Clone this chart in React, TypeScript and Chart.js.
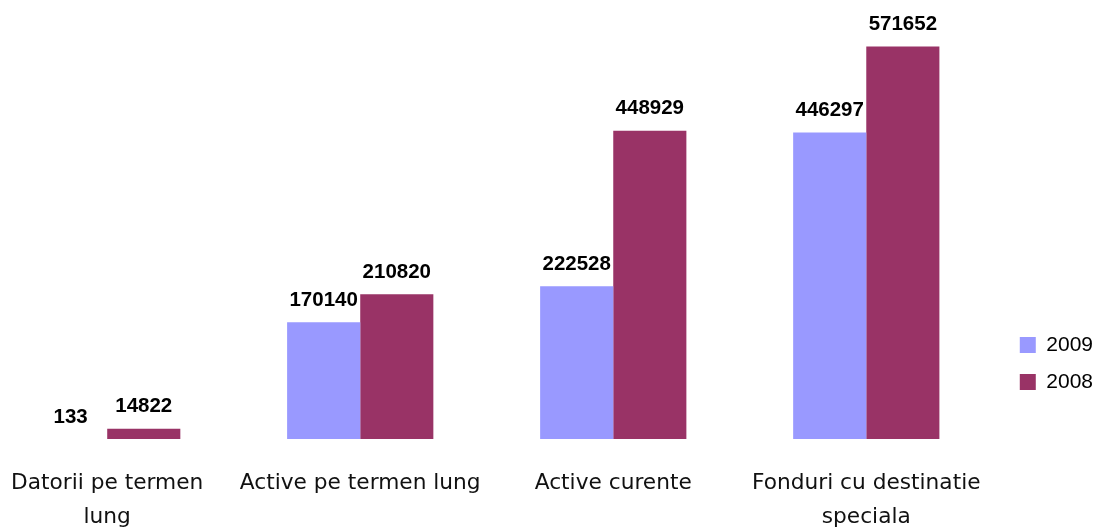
import React, { useEffect, useRef } from "react";
import { Chart, registerables } from "chart.js";

Chart.register(...registerables);

const categories: string[][] = [
  ["Datorii pe termen", "lung"],
  ["Active pe termen lung"],
  ["Active curente"],
  ["Fonduri cu destinatie", "speciala"],
];
const series2009: number[] = [133, 170140, 222528, 446297];
const series2008: number[] = [14822, 210820, 448929, 571652];
const seriesNames: string[] = ["2009", "2008"];
const yMax = 600000;

const valueLabels = {
  id: "valueLabels",
  afterDatasetsDraw(chart: any) {
    const ctx = chart.ctx;
    ctx.save();
    ctx.font = "bold 20.5px 'Liberation Sans', Arial, sans-serif";
    ctx.fillStyle = "#000";
    ctx.textAlign = "center";
    ctx.textBaseline = "middle";
    chart.data.datasets.forEach((ds: any, di: number) => {
      const meta = chart.getDatasetMeta(di);
      meta.data.forEach((el: any, i: number) => {
        ctx.fillText(String(ds.data[i]), el.x, el.y - 22);
      });
    });
    ctx.restore();
  },
};

export default function App() {
  const ref = useRef<HTMLCanvasElement | null>(null);
  useEffect(() => {
    if (!ref.current) return;
    const chart = new Chart(ref.current, {
      type: "bar",
      data: {
        labels: categories,
        datasets: [
          {
            label: seriesNames[0],
            data: series2009,
            backgroundColor: "#9999FF",
            borderWidth: 0,
          },
          {
            label: seriesNames[1],
            data: series2008,
            backgroundColor: "#993366",
            borderWidth: 0,
          },
        ],
      },
      options: {
        animation: false,
        responsive: false,
        devicePixelRatio: 1,
        layout: { padding: { top: 27, left: 10.7, right: 0, bottom: 0 } },
        datasets: {
          bar: { categoryPercentage: 0.578, barPercentage: 1 },
        },
        scales: {
          x: {
            grid: { display: false },
            border: { display: false },
            ticks: {
              color: "#111",
              padding: 19,
              maxRotation: 0,
              autoSkip: false,
              font: { family: "'DejaVu Sans', sans-serif", size: 21.7, lineHeight: 1.57 },
            },
            afterFit: (s: any) => {
              s.height = 90;
            },
          },
          y: {
            position: "right",
            min: 0,
            max: yMax,
            grid: { display: false },
            border: { display: false },
            ticks: { display: false },
            afterFit: (s: any) => {
              s.width = 11;
            },
          },
        },
        plugins: {
          tooltip: { enabled: false },
          legend: {
            position: "right",
            align: "start",
            title: {
              display: true,
              text: " ",
              padding: { top: 277.1, bottom: 0 },
            },
            labels: {
              boxWidth: 16,
              boxHeight: 16,
              padding: 16,
              color: "#000",
              font: { family: "'Liberation Sans', Arial, sans-serif", size: 21 },
            },
          },
        },
      },
      plugins: [valueLabels],
    });
    return () => chart.destroy();
  }, []);
  return (
    <div style={{ position: "absolute", left: -30, top: 0, width: 1133, height: 529 }}>
      <canvas ref={ref} width={1133} height={529} style={{ display: "block" }} />
    </div>
  );
}
